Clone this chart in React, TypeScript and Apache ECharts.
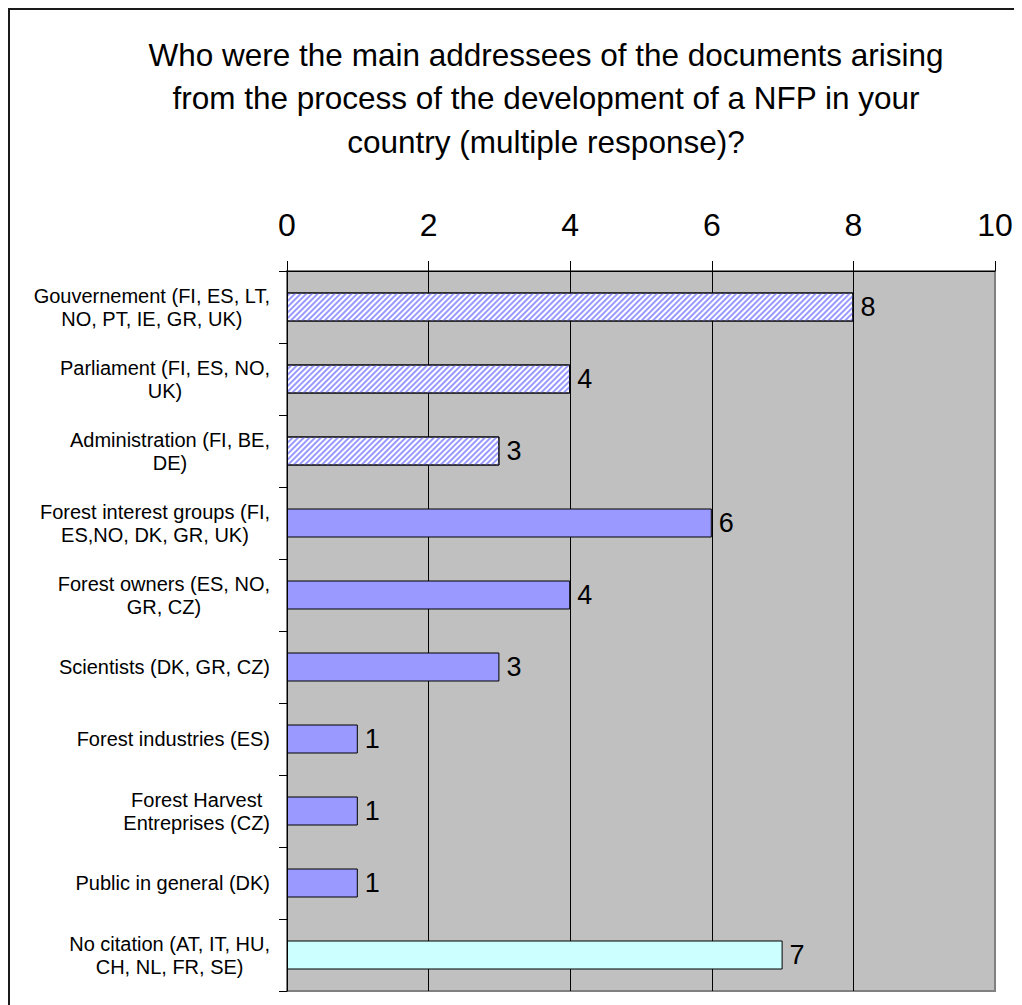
import React, { useEffect, useRef } from "react";
import * as echarts from "echarts";

const titleLines = [
  "Who were the main addressees of the documents arising",
  "from the process of the development of a NFP in your",
  "country (multiple response)?",
];

const categories = [
  "Gouvernement (FI, ES, LT,\nNO, PT, IE, GR, UK)",
  "Parliament (FI, ES, NO,\nUK)",
  "Administration (FI, BE,\nDE)",
  "Forest interest groups (FI,\nES,NO, DK, GR, UK)",
  "Forest owners (ES, NO,\nGR, CZ)",
  "Scientists (DK, GR, CZ)",
  "Forest industries (ES)",
  "Forest Harvest\nEntreprises (CZ)",
  "Public in general (DK)",
  "No citation (AT, IT, HU,\nCH, NL, FR, SE)",
];

const counts = [8, 4, 3, 6, 4, 3, 1, 1, 1, 7];

// 0 = hatched (state bodies), 1 = solid (stakeholders), 2 = no citation
const groups = [0, 0, 0, 1, 1, 1, 1, 1, 1, 2];

const xTicks = { min: 0, max: 10, interval: 2 };

const FONT = "Arial, 'Liberation Sans', sans-serif";

// diagonal "/" hatching in light blue over white
const hatch = {
  symbol: "rect",
  symbolSize: 1,
  color: "#9999ff",
  backgroundColor: "#ffffff",
  dashArrayX: [1, 0],
  dashArrayY: [1.4, 1.8],
  rotation: -Math.PI / 4,
};

export default function App() {
  const ref = useRef<HTMLDivElement>(null);

  useEffect(() => {
    if (!ref.current) return;
    const chart = echarts.init(ref.current, null, { renderer: "svg" });

    const data = counts.map((v, i) => {
      const g = groups[i];
      const itemStyle: any = {
        borderColor: "#000000",
        borderWidth: 1,
        color: g === 0 ? "#ffffff" : g === 1 ? "#9999ff" : "#ccffff",
      };
      if (g === 0) itemStyle.decal = hatch;
      return { value: v, itemStyle };
    });

    chart.setOption({
      animation: false,
      backgroundColor: "#ffffff",
      title: {
        text: titleLines.join("\n"),
        left: 533,
        top: 20,
        textAlign: "center",
        textStyle: {
          fontFamily: FONT,
          fontSize: 31.5,
          fontWeight: "normal",
          lineHeight: 43.5,
          color: "#000000",
        },
      },
      graphic: [
        {
          type: "rect",
          shape: { x: 1, y: 1, width: 1100, height: 1100 },
          style: { fill: "none", stroke: "#1a1a1a", lineWidth: 2 },
          silent: true,
          z: 100,
        },
      ],
      grid: {
        left: 279,
        top: 263,
        width: 708,
        height: 720,
        show: true,
        backgroundColor: "#c0c0c0",
        borderColor: "#808080",
        borderWidth: 2,
      },
      xAxis: {
        type: "value",
        position: "top",
        min: xTicks.min,
        max: xTicks.max,
        interval: xTicks.interval,
        axisLine: { show: true, lineStyle: { color: "#000000", width: 1 } },
        axisTick: { show: true, inside: false, length: 10, lineStyle: { color: "#000000" } },
        axisLabel: {
          margin: 30,
          fontFamily: FONT,
          fontSize: 32,
          color: "#000000",
        },
        splitLine: {
          show: true,
          showMinLine: false,
          showMaxLine: false,
          lineStyle: { color: "#000000", width: 1 },
        },
      },
      yAxis: {
        type: "category",
        inverse: true,
        data: categories,
        axisLine: { show: true, lineStyle: { color: "#000000", width: 1 } },
        axisTick: { show: true, inside: false, length: 8, lineStyle: { color: "#000000" } },
        axisLabel: {
          margin: 17,
          align: "right",
          formatter: (v: string) =>
            v
              .split("\n")
              .map((l) => `{c|${l}}`)
              .join("\n"),
          rich: {
            c: {
              align: "center",
              fontFamily: FONT,
              fontSize: 20,
              lineHeight: 23,
              color: "#000000",
            },
          },
        },
        splitLine: { show: false },
      },
      series: [
        {
          type: "bar",
          data,
          barWidth: 29,
          label: {
            show: true,
            position: "right",
            distance: 7,
            fontFamily: FONT,
            fontSize: 27,
            color: "#000000",
          },
        },
      ],
    });

    return () => chart.dispose();
  }, []);

  return <div ref={ref} style={{ width: 1014, height: 997 }} />;
}
